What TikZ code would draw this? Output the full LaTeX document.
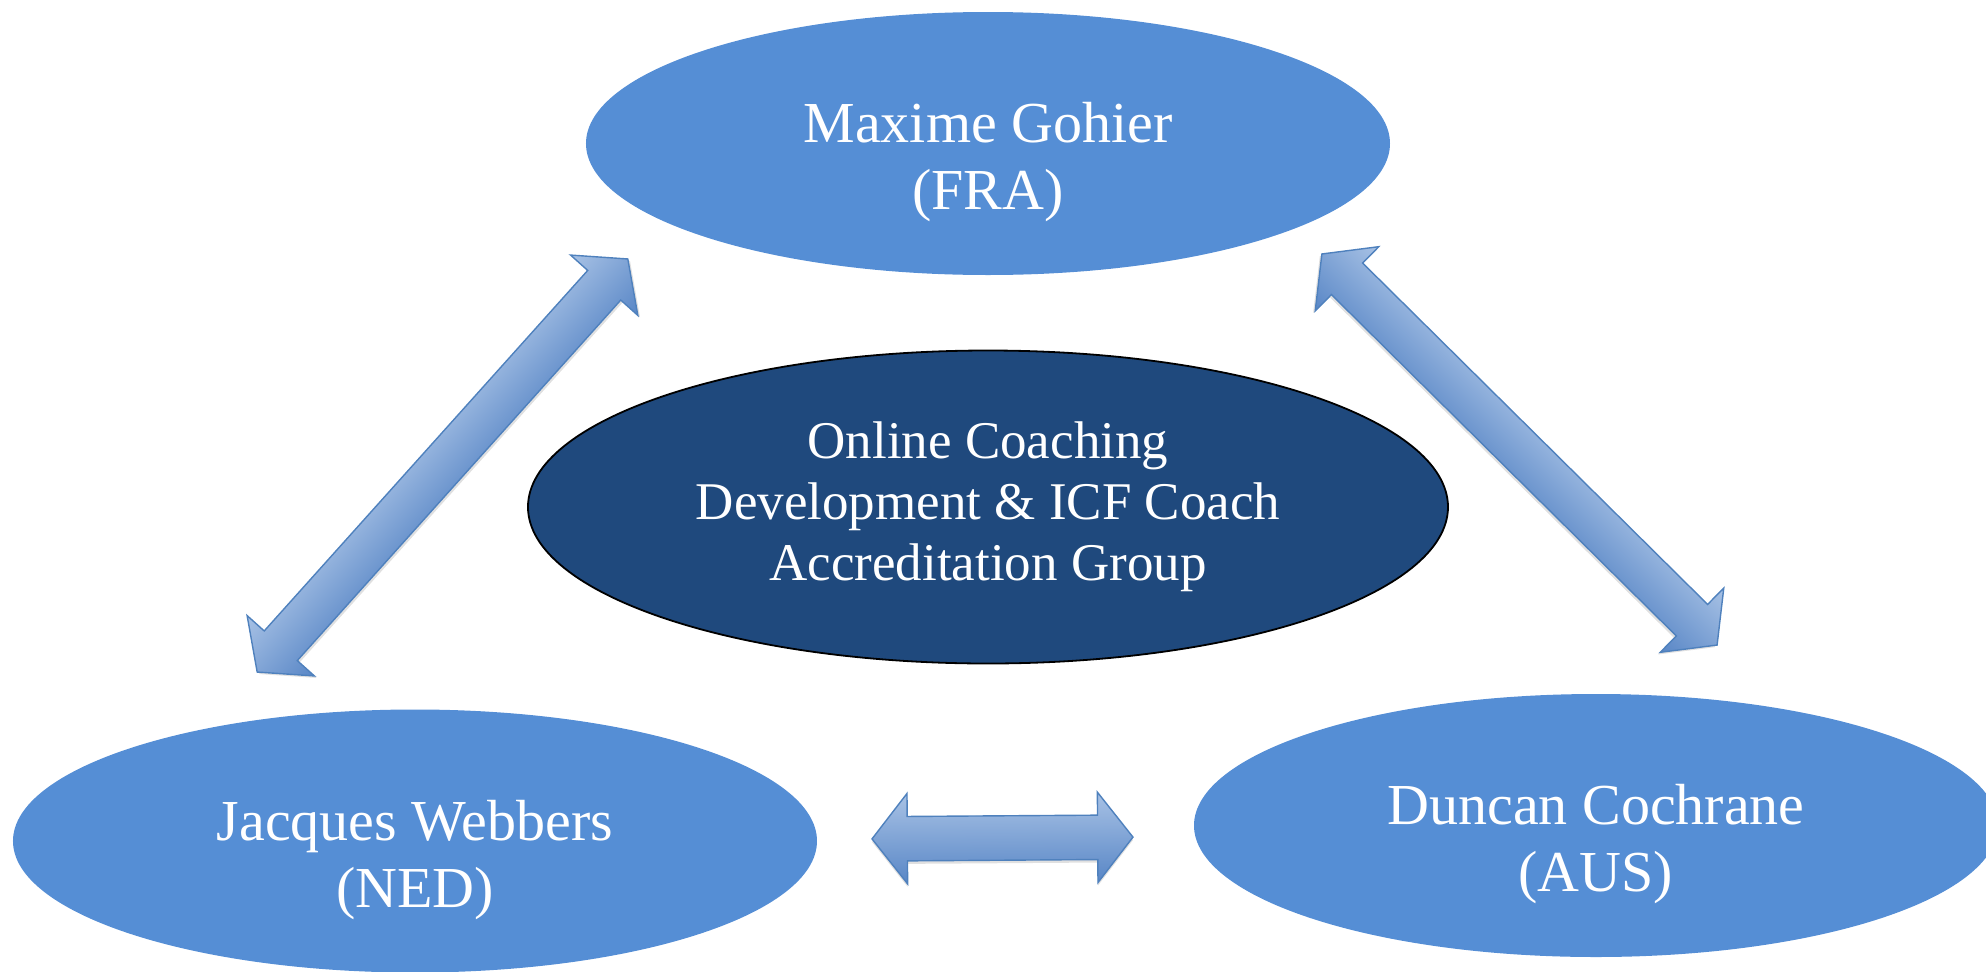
\documentclass[tikz,border=0pt]{standalone}
\usepackage{fontspec}
\setmainfont{Liberation Serif}
\usepackage{tikz}
\usetikzlibrary{
	positioning,
	shapes.geometric,
	shapes.arrows,
	shadows
}
\definecolor{memberblue}{RGB}{85,142,213}
\definecolor{hubblue}{RGB}{31,73,125}
\definecolor{linkline}{RGB}{79,129,189}
\definecolor{linktop}{RGB}{168,194,229}
\definecolor{linkbottom}{RGB}{88,134,198}
\tikzset{
	on grid,
	every node/.append style={
		text=white,
		align=center
	},
	member/.style={
		ellipse,
		fill=memberblue,
		minimum width=402pt,
		minimum height=131.5pt,
		font=\fontsize{29}{33.5}\selectfont,
		text height=66pt,
		text depth=0pt
	},
	hub/.style={
		ellipse,
		draw=black,
		line width=0.9pt,
		fill=hubblue,
		minimum width=460pt,
		minimum height=156.5pt,
		font=\fontsize{26.5}{30.5}\selectfont
	},
	link/.style={
		double arrow,
		draw=linkline,
		line width=0.7pt,
		top color=linktop,
		bottom color=linkbottom,
		double arrow tip angle=104,
		double arrow head extend=11.5pt,
		inner xsep=0pt,
		inner ysep=10.75pt,
		drop shadow={shadow xshift=0pt,shadow yshift=-1.5pt,opacity=0.3,fill=black!40}
	}
}

\begin{document}
\begin{tikzpicture}
	\useasboundingbox (-494pt,-232pt) rectangle (499pt,253.5pt);
	\draw
		node[hub]                                          (hub) {Online Coaching\\Development \& ICF Coach\\Accreditation Group}
		node[member,above=181.75pt of hub]                 (fra) {Maxime Gohier\\(FRA)}
		node[member,below left=167pt and 286.5pt of hub]   (ned) {Jacques Webbers\\(NED)}
		node[member,below right=159.25pt and 304pt of hub] (aus) {Duncan Cochrane\\(AUS)}
	;
	% block arrows between the members
	\begin{scope}[transform canvas={shift={(-272.75pt,20.75pt)},rotate=48.1}]
		\node[link,minimum height=277.5pt] (fra-ned) {};
	\end{scope}
	\begin{scope}[transform canvas={shift={(265.75pt,28.75pt)},rotate=-44.7}]
		\node[link,minimum height=278pt] (fra-aus) {};
	\end{scope}
	\begin{scope}[transform canvas={shift={(7.25pt,-165.5pt)},rotate=0.4}]
		\node[link,minimum height=130.5pt] (ned-aus) {};
	\end{scope}
\end{tikzpicture}
\end{document}
